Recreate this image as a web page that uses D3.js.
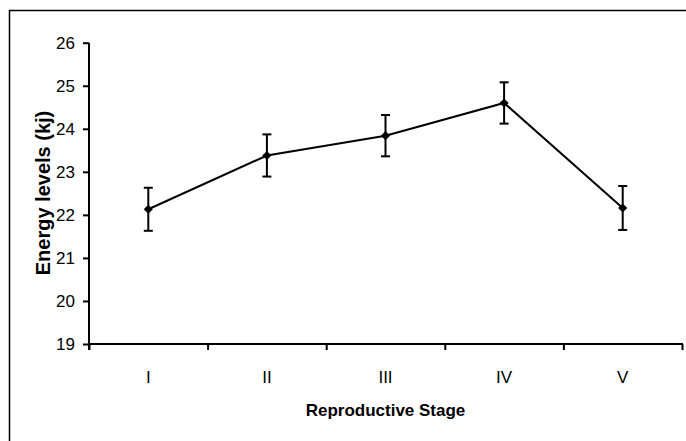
<!DOCTYPE html>
<html>
<head>
<meta charset="utf-8">
<script src="https://cdn.jsdelivr.net/npm/d3@7"></script>
<style>
  html, body { margin: 0; padding: 0; background: #fff; }
  svg { display: block; }
  text { font-family: "Liberation Sans", Arial, sans-serif; fill: #000; }
</style>
</head>
<body>
<script>
const categories = ["I", "II", "III", "IV", "V"];
const means = [22.13, 23.38, 23.84, 24.60, 22.16];
const errors = [0.50, 0.49, 0.48, 0.48, 0.51];
const yTicks = [19, 20, 21, 22, 23, 24, 25, 26];
const yTitle = "Energy levels (kj)";
const xTitle = "Reproductive Stage";

const W = 686, H = 441;
const mLeft = 89, mRight = 682, mTop = 42.7, mBottom = 344;

const svg = d3.select("body").append("svg").attr("width", W).attr("height", H);

// outer frame (cropped at right and bottom)
svg.append("rect").attr("x", 9.5).attr("y", 10.5).attr("width", 720).attr("height", 480)
  .attr("fill", "none").attr("stroke", "#000").attr("stroke-width", 1.5);

const y = d3.scaleLinear().domain([19, 26]).range([mBottom, mTop]);
const x = d3.scaleBand().domain(categories).range([mLeft, mRight]).padding(0);
const xi = d3.scaleLinear().domain([0, categories.length]).range([mLeft, mRight]);

// Y axis
const gy = svg.append("g").attr("transform", `translate(${mLeft},0)`)
  .call(d3.axisLeft(y).tickValues(yTicks).tickFormat(d3.format("d")).tickSize(6).tickSizeOuter(0).tickPadding(8));
gy.select(".domain").remove();
gy.selectAll(".tick line").attr("stroke", "#000").attr("stroke-width", 2);
gy.selectAll(".tick text").attr("font-size", 17).attr("font-family", "Liberation Sans, Arial, sans-serif");
gy.append("line").attr("x1", 0).attr("x2", 0).attr("y1", mTop).attr("y2", mBottom + 6)
  .attr("stroke", "#000").attr("stroke-width", 2);

// X axis: boundary ticks
const gx = svg.append("g").attr("transform", `translate(0,${mBottom})`)
  .call(d3.axisBottom(xi).tickValues(d3.range(categories.length + 1)).tickFormat("").tickSize(6).tickSizeOuter(0));
gx.select(".domain").remove();
gx.selectAll(".tick line").attr("stroke", "#000").attr("stroke-width", 2);
gx.append("line").attr("x1", mLeft).attr("x2", mRight + 1).attr("y1", 0).attr("y2", 0)
  .attr("stroke", "#000").attr("stroke-width", 2);

// X category labels
const gxl = svg.append("g").attr("transform", `translate(0,${mBottom})`)
  .call(d3.axisBottom(x).tickSize(0).tickPadding(0));
gxl.select(".domain").remove();
gxl.selectAll(".tick text").attr("font-size", 17).attr("dy", null).attr("y", 39)
  .attr("font-family", "Liberation Sans, Arial, sans-serif");

// titles
svg.append("text").attr("transform", `translate(50,193) rotate(-90)`)
  .attr("text-anchor", "middle").attr("font-size", 20).attr("font-weight", "bold")
  .text(yTitle);
svg.append("text").attr("x", (mLeft + mRight) / 2).attr("y", 416)
  .attr("text-anchor", "middle").attr("font-size", 17).attr("font-weight", "bold")
  .text(xTitle);

const data = categories.map((c, i) => ({ c, m: means[i], e: errors[i] }));
const cx = d => x(d.c) + x.bandwidth() / 2;

// line
svg.append("path").datum(data)
  .attr("d", d3.line().x(cx).y(d => y(d.m)))
  .attr("fill", "none").attr("stroke", "#000").attr("stroke-width", 2);

// error bars
const eb = svg.append("g").selectAll("g").data(data).join("g");
eb.append("line").attr("x1", cx).attr("x2", cx)
  .attr("y1", d => y(d.m + d.e)).attr("y2", d => y(d.m - d.e))
  .attr("stroke", "#000").attr("stroke-width", 2);
eb.append("line").attr("x1", d => cx(d) - 4.5).attr("x2", d => cx(d) + 4.5)
  .attr("y1", d => y(d.m + d.e)).attr("y2", d => y(d.m + d.e))
  .attr("stroke", "#000").attr("stroke-width", 2);
eb.append("line").attr("x1", d => cx(d) - 4.5).attr("x2", d => cx(d) + 4.5)
  .attr("y1", d => y(d.m - d.e)).attr("y2", d => y(d.m - d.e))
  .attr("stroke", "#000").attr("stroke-width", 2);

// diamond markers
svg.append("g").selectAll("path").data(data).join("path")
  .attr("transform", d => `translate(${cx(d)},${y(d.m)}) rotate(45)`)
  .attr("d", d3.symbol(d3.symbolSquare, 42))
  .attr("fill", "#000");
</script>
</body>
</html>
